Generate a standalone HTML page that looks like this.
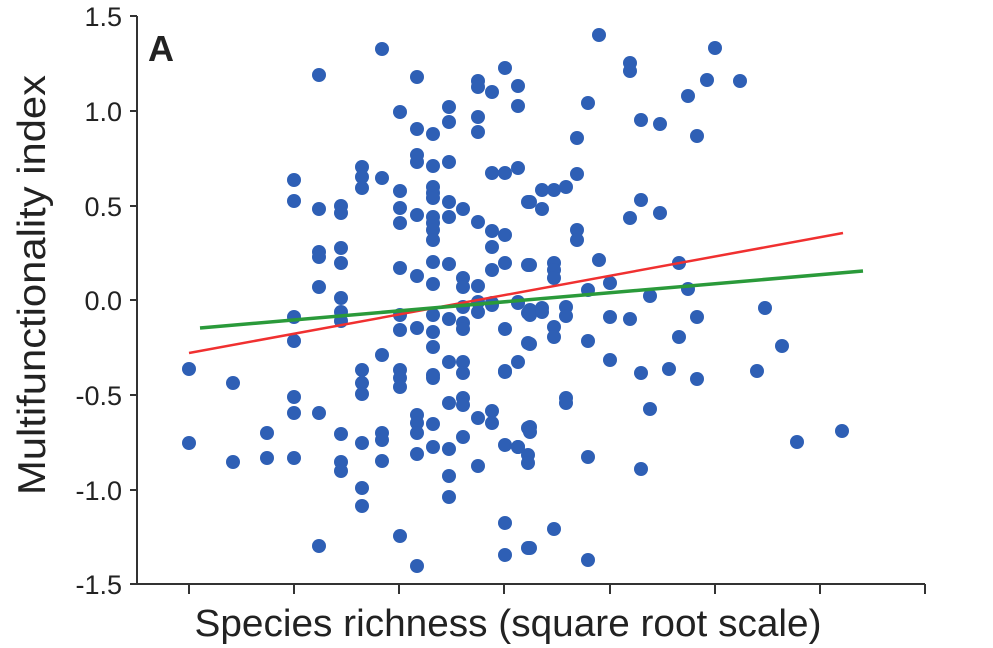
<!DOCTYPE html>
<html><head><style>body{margin:0;background:#fff}svg{display:block}</style></head><body>
<svg width="993" height="648" xmlns="http://www.w3.org/2000/svg" font-family="Liberation Sans, sans-serif">
<g stroke="#333" stroke-width="2" fill="none">
<path d="M137,16 V584 H925"/>
<path d="M130,16H137M130,111H137M130,206H137M130,300H137M130,395H137M130,490H137M130,584H137"/>
<path d="M189,584V594M294,584V594M399,584V594M504,584V594M610,584V594M715,584V594M820,584V594M925,584V594"/>
</g>
<g font-size="27" fill="#222" text-anchor="end">
<text x="122" y="26">1.5</text><text x="122" y="121">1.0</text><text x="122" y="216">0.5</text><text x="122" y="310">0.0</text>
<text x="122" y="405">-0.5</text><text x="122" y="500">-1.0</text><text x="122" y="594">-1.5</text>
</g>
<text x="148" y="61" font-size="36" font-weight="bold" fill="#222">A</text>
<text transform="translate(45,285) rotate(-90)" font-size="39" fill="#222" text-anchor="middle" textLength="420" lengthAdjust="spacingAndGlyphs">Multifunctionality index</text>
<text x="508" y="636" font-size="38" fill="#222" text-anchor="middle" textLength="627" lengthAdjust="spacingAndGlyphs">Species richness (square root scale)</text>
<g fill="#2e5fb5">
<circle cx="382" cy="49" r="7"/><circle cx="319" cy="75" r="7"/><circle cx="417" cy="77" r="7"/><circle cx="505" cy="68" r="7"/><circle cx="478" cy="81" r="7"/><circle cx="478" cy="87" r="7"/><circle cx="492" cy="92" r="7"/><circle cx="518" cy="86" r="7"/><circle cx="518" cy="106" r="7"/><circle cx="400" cy="112" r="7"/><circle cx="449" cy="107" r="7"/><circle cx="449" cy="122" r="7"/><circle cx="417" cy="129" r="7"/><circle cx="433" cy="134" r="7"/><circle cx="478" cy="117" r="7"/><circle cx="478" cy="132" r="7"/><circle cx="417" cy="155" r="7"/><circle cx="417" cy="162" r="7"/><circle cx="433" cy="166" r="7"/><circle cx="449" cy="162" r="7"/><circle cx="294" cy="180" r="7"/><circle cx="294" cy="201" r="7"/><circle cx="362" cy="167" r="7"/><circle cx="362" cy="177" r="7"/><circle cx="362" cy="188" r="7"/><circle cx="382" cy="178" r="7"/><circle cx="319" cy="209" r="7"/><circle cx="341" cy="206" r="7"/><circle cx="341" cy="213" r="7"/><circle cx="400" cy="191" r="7"/><circle cx="400" cy="208" r="7"/><circle cx="400" cy="223" r="7"/><circle cx="417" cy="215" r="7"/><circle cx="433" cy="187" r="7"/><circle cx="433" cy="193" r="7"/><circle cx="433" cy="198" r="7"/><circle cx="433" cy="217" r="7"/><circle cx="433" cy="223" r="7"/><circle cx="433" cy="230" r="7"/><circle cx="433" cy="240" r="7"/><circle cx="449" cy="202" r="7"/><circle cx="449" cy="217" r="7"/><circle cx="463" cy="209" r="7"/><circle cx="478" cy="222" r="7"/><circle cx="492" cy="231" r="7"/><circle cx="492" cy="247" r="7"/><circle cx="505" cy="235" r="7"/><circle cx="492" cy="173" r="7"/><circle cx="505" cy="173" r="7"/><circle cx="518" cy="168" r="7"/><circle cx="528" cy="202" r="7"/><circle cx="319" cy="252" r="7"/><circle cx="319" cy="257" r="7"/><circle cx="341" cy="248" r="7"/><circle cx="341" cy="263" r="7"/><circle cx="319" cy="287" r="7"/><circle cx="341" cy="298" r="7"/><circle cx="400" cy="268" r="7"/><circle cx="417" cy="276" r="7"/><circle cx="433" cy="262" r="7"/><circle cx="449" cy="264" r="7"/><circle cx="433" cy="284" r="7"/><circle cx="463" cy="278" r="7"/><circle cx="463" cy="287" r="7"/><circle cx="478" cy="286" r="7"/><circle cx="492" cy="270" r="7"/><circle cx="505" cy="263" r="7"/><circle cx="528" cy="265" r="7"/><circle cx="518" cy="302" r="7"/><circle cx="478" cy="302" r="7"/><circle cx="492" cy="303" r="7"/>
<circle cx="341" cy="312" r="7"/><circle cx="341" cy="321" r="7"/><circle cx="294" cy="317" r="7"/><circle cx="294" cy="341" r="7"/><circle cx="189" cy="369" r="7"/><circle cx="233" cy="383" r="7"/><circle cx="294" cy="397" r="7"/><circle cx="294" cy="413" r="7"/><circle cx="319" cy="413" r="7"/><circle cx="189" cy="443" r="7"/><circle cx="233" cy="462" r="7"/><circle cx="267" cy="433" r="7"/><circle cx="267" cy="458" r="7"/><circle cx="294" cy="458" r="7"/><circle cx="341" cy="434" r="7"/><circle cx="341" cy="462" r="7"/><circle cx="341" cy="471" r="7"/><circle cx="362" cy="443" r="7"/><circle cx="362" cy="488" r="7"/><circle cx="362" cy="506" r="7"/><circle cx="319" cy="546" r="7"/><circle cx="362" cy="370" r="7"/><circle cx="362" cy="383" r="7"/><circle cx="362" cy="394" r="7"/><circle cx="382" cy="355" r="7"/><circle cx="382" cy="433" r="7"/><circle cx="382" cy="440" r="7"/><circle cx="382" cy="461" r="7"/><circle cx="400" cy="315" r="7"/><circle cx="400" cy="330" r="7"/><circle cx="400" cy="370" r="7"/><circle cx="400" cy="378" r="7"/><circle cx="400" cy="387" r="7"/><circle cx="400" cy="536" r="7"/><circle cx="417" cy="328" r="7"/><circle cx="417" cy="415" r="7"/><circle cx="417" cy="423" r="7"/><circle cx="417" cy="433" r="7"/><circle cx="417" cy="454" r="7"/><circle cx="417" cy="566" r="7"/><circle cx="433" cy="315" r="7"/><circle cx="433" cy="332" r="7"/><circle cx="433" cy="347" r="7"/><circle cx="433" cy="375" r="7"/><circle cx="433" cy="378" r="7"/><circle cx="433" cy="424" r="7"/><circle cx="433" cy="447" r="7"/><circle cx="449" cy="319" r="7"/><circle cx="449" cy="362" r="7"/><circle cx="449" cy="403" r="7"/><circle cx="449" cy="449" r="7"/><circle cx="449" cy="476" r="7"/><circle cx="449" cy="497" r="7"/><circle cx="463" cy="323" r="7"/><circle cx="463" cy="329" r="7"/><circle cx="463" cy="362" r="7"/><circle cx="463" cy="373" r="7"/><circle cx="463" cy="398" r="7"/><circle cx="463" cy="405" r="7"/><circle cx="463" cy="437" r="7"/><circle cx="463" cy="307" r="7"/><circle cx="478" cy="312" r="7"/><circle cx="478" cy="418" r="7"/><circle cx="478" cy="466" r="7"/><circle cx="492" cy="305" r="7"/><circle cx="492" cy="411" r="7"/><circle cx="492" cy="423" r="7"/><circle cx="505" cy="329" r="7"/><circle cx="505" cy="372" r="7"/><circle cx="505" cy="445" r="7"/><circle cx="505" cy="523" r="7"/><circle cx="505" cy="555" r="7"/><circle cx="518" cy="303" r="7"/><circle cx="518" cy="362" r="7"/><circle cx="518" cy="447" r="7"/><circle cx="528" cy="313" r="7"/><circle cx="528" cy="343" r="7"/><circle cx="528" cy="428" r="7"/><circle cx="528" cy="455" r="7"/><circle cx="528" cy="463" r="7"/><circle cx="528" cy="548" r="7"/>
<circle cx="599" cy="35" r="7"/><circle cx="630" cy="63" r="7"/><circle cx="630" cy="71" r="7"/><circle cx="715" cy="48" r="7"/><circle cx="707" cy="80" r="7"/><circle cx="740" cy="81" r="7"/><circle cx="688" cy="96" r="7"/><circle cx="588" cy="103" r="7"/><circle cx="641" cy="120" r="7"/><circle cx="660" cy="124" r="7"/><circle cx="697" cy="136" r="7"/><circle cx="577" cy="138" r="7"/><circle cx="577" cy="174" r="7"/><circle cx="542" cy="190" r="7"/><circle cx="554" cy="190" r="7"/><circle cx="566" cy="187" r="7"/><circle cx="530" cy="202" r="7"/><circle cx="542" cy="209" r="7"/><circle cx="641" cy="200" r="7"/><circle cx="630" cy="218" r="7"/><circle cx="660" cy="213" r="7"/><circle cx="577" cy="230" r="7"/><circle cx="577" cy="240" r="7"/><circle cx="530" cy="265" r="7"/><circle cx="554" cy="263" r="7"/><circle cx="554" cy="270" r="7"/><circle cx="554" cy="278" r="7"/><circle cx="599" cy="260" r="7"/><circle cx="679" cy="263" r="7"/><circle cx="610" cy="283" r="7"/><circle cx="588" cy="290" r="7"/><circle cx="650" cy="296" r="7"/><circle cx="688" cy="289" r="7"/><circle cx="530" cy="310" r="7"/><circle cx="542" cy="308" r="7"/><circle cx="566" cy="307" r="7"/><circle cx="765" cy="308" r="7"/>
<circle cx="530" cy="315" r="7"/><circle cx="542" cy="312" r="7"/><circle cx="566" cy="316" r="7"/><circle cx="554" cy="327" r="7"/><circle cx="554" cy="337" r="7"/><circle cx="530" cy="344" r="7"/><circle cx="588" cy="341" r="7"/><circle cx="610" cy="317" r="7"/><circle cx="630" cy="319" r="7"/><circle cx="697" cy="317" r="7"/><circle cx="679" cy="337" r="7"/><circle cx="782" cy="346" r="7"/><circle cx="505" cy="371" r="7"/><circle cx="610" cy="360" r="7"/><circle cx="641" cy="373" r="7"/><circle cx="669" cy="369" r="7"/><circle cx="697" cy="379" r="7"/><circle cx="757" cy="371" r="7"/><circle cx="566" cy="398" r="7"/><circle cx="566" cy="403" r="7"/><circle cx="650" cy="409" r="7"/><circle cx="530" cy="427" r="7"/><circle cx="530" cy="432" r="7"/><circle cx="518" cy="447" r="7"/><circle cx="588" cy="457" r="7"/><circle cx="641" cy="469" r="7"/><circle cx="797" cy="442" r="7"/><circle cx="842" cy="431" r="7"/><circle cx="554" cy="529" r="7"/><circle cx="530" cy="548" r="7"/><circle cx="588" cy="560" r="7"/>
</g>
<line x1="189" y1="353" x2="843" y2="233" stroke="#f03030" stroke-width="2.5"/>
<line x1="200" y1="328" x2="863" y2="271" stroke="#2a9a3a" stroke-width="3.5"/>
</svg>
</body></html>
